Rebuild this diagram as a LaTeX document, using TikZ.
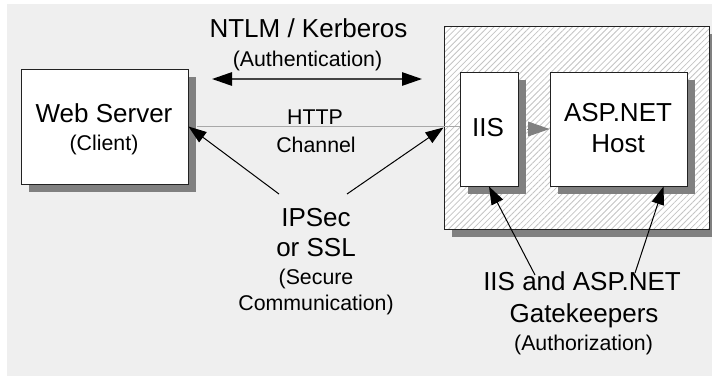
\documentclass[tikz,border=0pt]{standalone}
\usepackage{fontspec}
\setmainfont{Liberation Sans}
\usetikzlibrary{arrows.meta,shadows,patterns.meta,calc}
\definecolor{bg}{HTML}{EFEFEF}
\definecolor{shadowgray}{HTML}{808080}
\definecolor{hatch}{HTML}{C4C4C4}
\definecolor{httpgray}{HTML}{A8A8A8}
\definecolor{boxline}{HTML}{222222}
\definecolor{darkline}{HTML}{444444}
\begin{document}
\begin{tikzpicture}[x=0.75pt,y=-0.75pt,
  sbox/.style={draw=boxline,line width=0.75pt,fill=white,inner sep=0pt,
    drop shadow={shadow xshift=6pt,shadow yshift=-6pt,fill=shadowgray,opacity=1}},
  big/.style={font=\fontsize{19.5}{23}\selectfont,anchor=base,inner sep=0pt},
  small/.style={font=\fontsize{16}{19}\selectfont,anchor=base,inner sep=0pt},
  thinarrow/.style={-{Triangle[length=13.5pt,width=9.5pt]},line width=0.75pt,black},
  grayarrow/.style={-{Triangle[length=16pt,width=11pt]},line width=0.75pt,shadowgray},
  autharrow/.style={{Triangle[length=15pt,width=10pt,color=black]}-{Triangle[length=15pt,width=10pt,color=black]},line width=1.3pt,darkline},
  httpline/.style={httpgray,line width=1.1pt}
]
\useasboundingbox (0,0) rectangle (712,376);
\fill[white] (0,0) rectangle (712,376);
\fill[bg] (7,4) rectangle (712,376);

% boxes
\node[sbox,minimum width=125.25pt,minimum height=86.25pt] (ws) at (104.5,126.5) {};
\node[sbox,minimum width=198.75pt,minimum height=152.25pt,
  postaction={pattern={Lines[angle=45,distance=3.2pt,line width=0.6pt]},pattern color=hatch},
  postaction={draw=boxline,line width=0.75pt}] (zone) at (576.5,127.5) {};
\node[sbox,minimum width=43.5pt,minimum height=85.5pt] (iis) at (489,129) {};
\node[sbox,minimum width=102.75pt,minimum height=85.5pt] (asp) at (618.5,129) {};

% texts
\node[big] (tntlm) at (308.5,37) {NTLM / Kerberos};
\node[small] (tauth) at (307.5,66.5) {(Authentication)};
\node[small] (thttp) at (315,124) {HTTP};
\node[small] (tchan) at (316,152) {Channel};
\node[big] (tws) at (104,122) {Web Server};
\node[small] (tcl) at (104,150.5) {(Client)};
\node[big] (tiis) at (488,136.5) {IIS};
\node[big] (tasp) at (618,121.5) {ASP.NET};
\node[big] (thost) at (618,152.5) {Host};
\node[big] (tips) at (316,226.5) {IPSec};
\node[big] (tssl) at (316,256.5) {or SSL};
\node[small] (tsec) at (316,284) {(Secure};
\node[small] (tcom) at (316,310) {Communication)};
\node[big] (tgk1) at (582,290.5) {IIS and ASP.NET};
\node[big] (tgk2) at (584,322) {Gatekeepers};
\node[small] (tgk3) at (583.5,350) {(Authorization)};

% coordinates
\coordinate (dl) at (212,79);
\coordinate (dr) at (422,79);
\coordinate (s1) at (279,194);
\coordinate (s2) at (347,194);
\coordinate (s3) at (535,275);
\coordinate (s4) at (635,273);

% connectors
\draw[httpline] ([xshift=6pt]ws.east) -- (ws.east -| iis.west);
\draw[grayarrow] ([xshift=6pt]iis.east) -- (asp.west);
\draw[autharrow] (dl) -- (dr);
\draw[thinarrow] (s1) -- (ws.east);
\draw[thinarrow] (s2) -- (zone.west);
\draw[thinarrow] (s3) -- (iis.south);
\draw[thinarrow] (s4) -- ([xshift=-18pt]asp.south east);
\end{tikzpicture}
\end{document}
